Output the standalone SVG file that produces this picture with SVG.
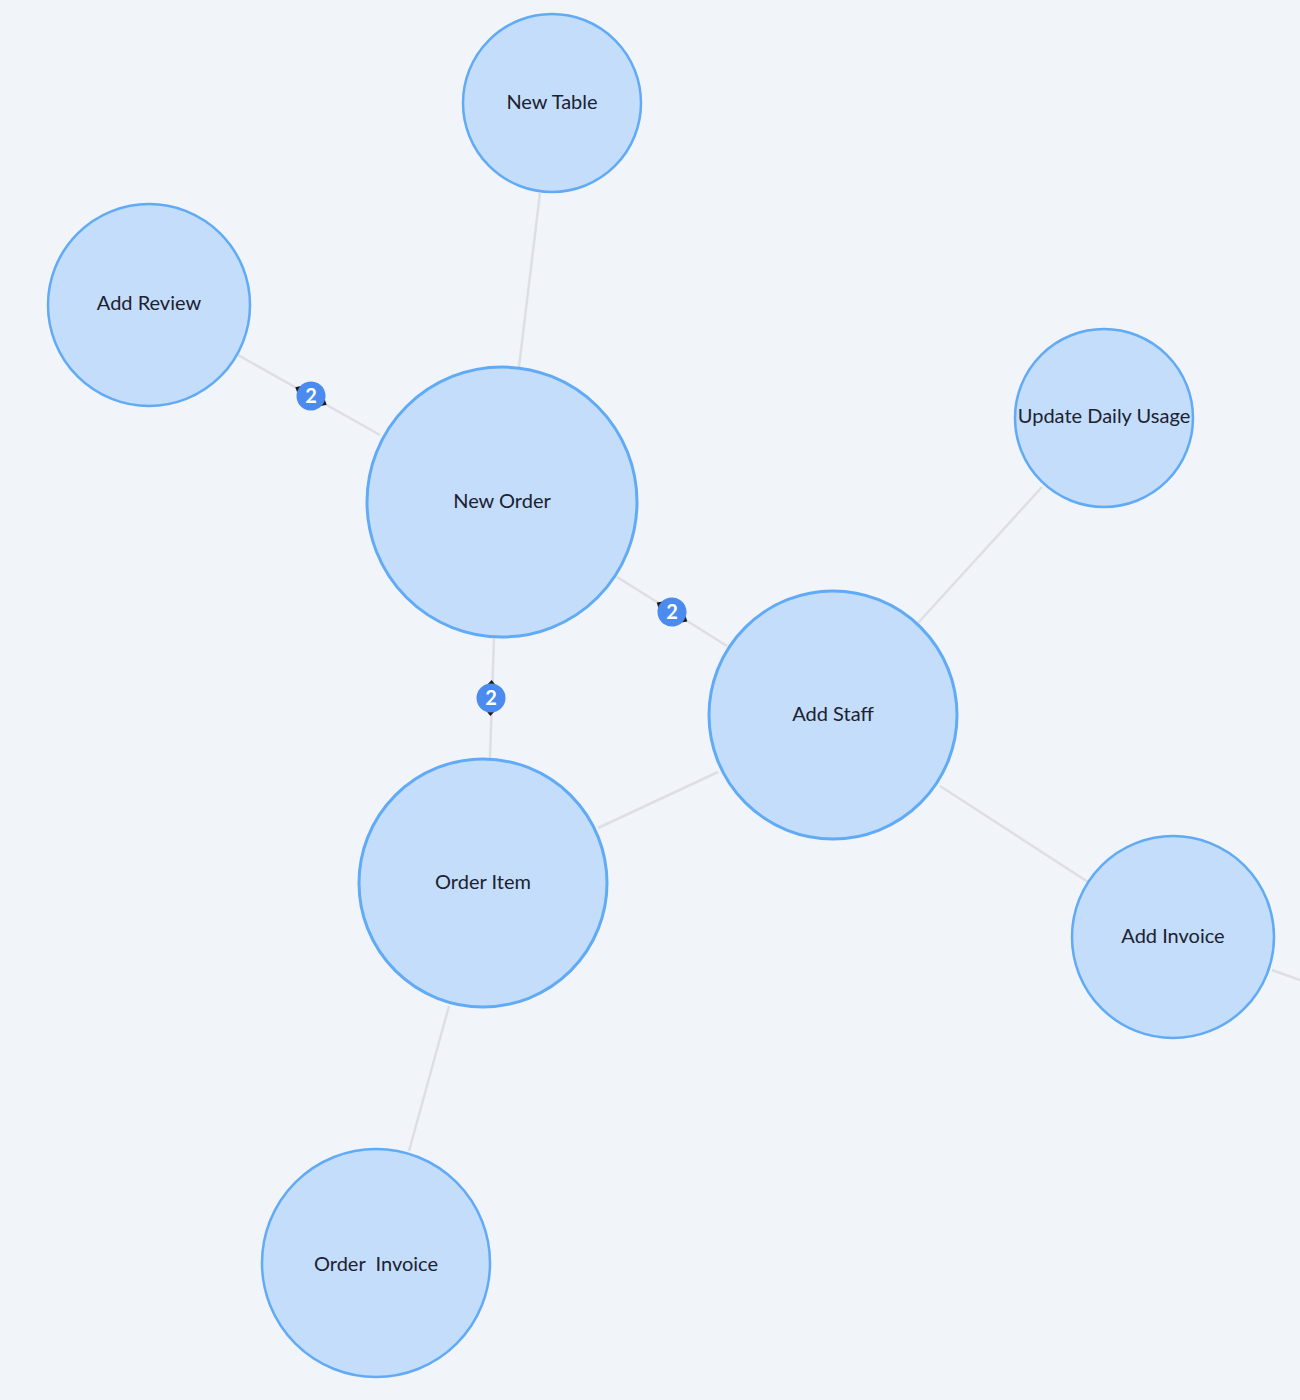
<svg xmlns="http://www.w3.org/2000/svg" width="1300" height="1400" viewBox="0 0 1300 1400">
<defs>
<style>
.node{fill:#c3ddfb;stroke:#61abf6;stroke-width:2.5}
.big{stroke-width:3}
.lbl{font-family:Lato,"Open Sans","Liberation Sans",sans-serif;font-size:20px;fill:#1c2230;text-anchor:middle;dominant-baseline:central}
.edge{stroke:#dddfe4;stroke-width:2.5;fill:none}
.bc{fill:#4b8bf0}
.bt{font-family:Lato,"Liberation Sans",sans-serif;font-size:20px;font-weight:bold;fill:#ffffff;text-anchor:middle;dominant-baseline:central}
.tip{fill:#1a1a1a}
</style>
<g id="badge">
<polygon class="tip" points="-18,0 -11,-6 -11,6"/>
<polygon class="tip" points="18,0 11,-6 11,6"/>
<circle class="bc" r="14.5"/>
</g>
</defs>
<rect width="1300" height="1400" fill="#f1f4f9"/>
<g id="connectors">
<line class="edge" x1="540" y1="193" x2="519" y2="367"/>
<line class="edge" x1="238" y1="355" x2="380" y2="435"/>
<line class="edge" x1="617" y1="577" x2="727" y2="646"/>
<line class="edge" x1="494" y1="638" x2="490" y2="758"/>
<line class="edge" x1="1042" y1="487" x2="918" y2="623"/>
<line class="edge" x1="718" y1="772" x2="598" y2="828"/>
<line class="edge" x1="940" y1="786" x2="1088" y2="882"/>
<line class="edge" x1="1272" y1="970" x2="1300" y2="980"/>
<line class="edge" x1="449" y1="1006" x2="409" y2="1151"/>
<g transform="translate(311,396) rotate(29.4)"><use href="#badge"/></g>
<text class="bt" x="311" y="395">2</text>
<g transform="translate(672,612) rotate(32)"><use href="#badge"/></g>
<text class="bt" x="672" y="611">2</text>
<g transform="translate(491,698) rotate(92)"><use href="#badge"/></g>
<text class="bt" x="491" y="697">2</text>
</g>
<g id="new-table"><circle class="node" cx="552" cy="103" r="89"/><text class="lbl" x="552" y="101">New Table</text></g>
<g id="add-review"><circle class="node" cx="149" cy="305" r="101"/><text class="lbl" x="149" y="302">Add Review</text></g>
<g id="new-order"><circle class="node big" cx="502" cy="502" r="135"/><text class="lbl" x="502" y="500">New Order</text></g>
<g id="update-daily-usage"><circle class="node" cx="1104" cy="418" r="89"/><text class="lbl" x="1104" y="415">Update Daily Usage</text></g>
<g id="add-staff"><circle class="node big" cx="833" cy="715" r="124"/><text class="lbl" x="833" y="713">Add Staff</text></g>
<g id="order-item"><circle class="node big" cx="483" cy="883" r="124"/><text class="lbl" x="483" y="881">Order Item</text></g>
<g id="add-invoice"><circle class="node" cx="1173" cy="937" r="101"/><text class="lbl" x="1173" y="935">Add Invoice</text></g>
<g id="order-invoice"><circle class="node" cx="376" cy="1263" r="114"/><text class="lbl" x="376" y="1263" xml:space="preserve">Order  Invoice</text></g>
</svg>
